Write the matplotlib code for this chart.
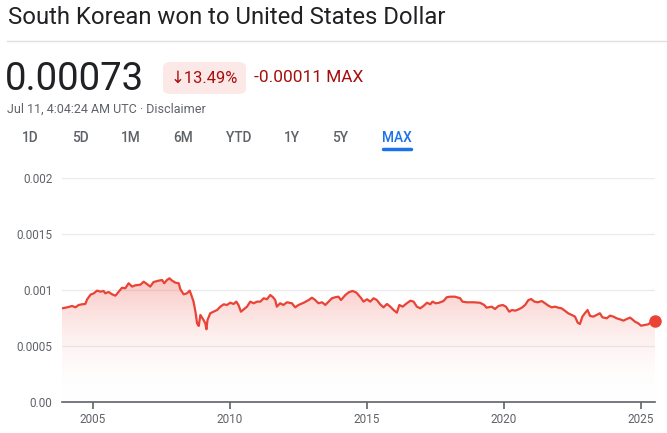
import numpy as np
import matplotlib
matplotlib.use("Agg")
from matplotlib import pyplot as plt
from matplotlib.patches import FancyBboxPatch, Polygon

plt.rcParams['font.family'] = ['Roboto', 'DejaVu Sans']

# KRW -> USD (decimal years)
years = [2003.88, 2004.07, 2004.25, 2004.37, 2004.49, 2004.61, 2004.73, 2004.80,
         2004.92, 2005.04, 2005.16, 2005.28, 2005.40, 2005.46, 2005.58, 2005.71,
         2005.83, 2005.95, 2006.07, 2006.19, 2006.31, 2006.44, 2006.56, 2006.74,
         2006.86, 2006.98, 2007.10, 2007.22, 2007.41, 2007.53, 2007.61, 2007.71,
         2007.80, 2007.90, 2008.02, 2008.14, 2008.20, 2008.32, 2008.44, 2008.54,
         2008.62, 2008.68, 2008.75, 2008.81, 2008.87, 2008.93, 2009.03, 2009.11,
         2009.15, 2009.19, 2009.29, 2009.41, 2009.54, 2009.66, 2009.78, 2009.90,
         2010.02, 2010.14, 2010.24, 2010.32, 2010.41, 2010.51, 2010.63, 2010.75,
         2010.87, 2011.00, 2011.12, 2011.24, 2011.36, 2011.48, 2011.58, 2011.66,
         2011.72, 2011.84, 2011.96, 2012.09, 2012.27, 2012.39, 2012.51, 2012.70,
         2012.88, 2013.00, 2013.12, 2013.24, 2013.37, 2013.49, 2013.61, 2013.73,
         2013.85, 2013.97, 2014.06, 2014.15, 2014.22, 2014.34, 2014.48, 2014.61,
         2014.70, 2014.80, 2014.88, 2015.01, 2015.13, 2015.25, 2015.37, 2015.49,
         2015.61, 2015.74, 2015.86, 2015.98, 2016.10, 2016.19, 2016.31, 2016.43,
         2016.59, 2016.71, 2016.83, 2016.95, 2017.07, 2017.20, 2017.32, 2017.40,
         2017.52, 2017.64, 2017.80, 2017.92, 2018.04, 2018.22, 2018.41, 2018.49,
         2018.65, 2018.89, 2019.13, 2019.29, 2019.37, 2019.56, 2019.68, 2019.81,
         2019.96, 2020.08, 2020.20, 2020.30, 2020.42, 2020.54, 2020.66, 2020.78,
         2020.90, 2021.00, 2021.12, 2021.24, 2021.39, 2021.51, 2021.63, 2021.75,
         2021.87, 2021.99, 2022.11, 2022.23, 2022.35, 2022.48, 2022.60, 2022.70,
         2022.78, 2022.87, 2022.96, 2023.06, 2023.15, 2023.27, 2023.39, 2023.51,
         2023.60, 2023.76, 2023.88, 2024.00, 2024.12, 2024.24, 2024.37, 2024.49,
         2024.61, 2024.69, 2024.79, 2024.91, 2025.01, 2025.15, 2025.27, 2025.40,
         2025.52]
rates = [0.000839, 0.000848, 0.000860, 0.000848, 0.000869, 0.000875, 0.000878, 0.000920,
         0.000961, 0.000973, 0.000997, 0.000988, 0.000994, 0.000973, 0.000985, 0.000964,
         0.000952, 0.000988, 0.001023, 0.001018, 0.001063, 0.001033, 0.001045, 0.001050,
         0.001077, 0.001056, 0.001033, 0.001074, 0.001086, 0.001092, 0.001063, 0.001092,
         0.001107, 0.001086, 0.001068, 0.001063, 0.001009, 0.000964, 0.000973, 0.000997,
         0.000943, 0.000899, 0.000809, 0.000705, 0.000682, 0.000780, 0.000741, 0.000705,
         0.000652, 0.000735, 0.000795, 0.000809, 0.000824, 0.000854, 0.000875, 0.000869,
         0.000889, 0.000878, 0.000899, 0.000869, 0.000809, 0.000830, 0.000854, 0.000899,
         0.000884, 0.000899, 0.000899, 0.000929, 0.000920, 0.000958, 0.000938, 0.000913,
         0.000854, 0.000884, 0.000869, 0.000893, 0.000884, 0.000848, 0.000869, 0.000889,
         0.000913, 0.000934, 0.000913, 0.000884, 0.000893, 0.000869, 0.000899, 0.000929,
         0.000938, 0.000943, 0.000913, 0.000938, 0.000958, 0.000982, 0.000994, 0.000982,
         0.000958, 0.000929, 0.000899, 0.000920, 0.000899, 0.000929, 0.000913, 0.000875,
         0.000848, 0.000878, 0.000854, 0.000824, 0.000800, 0.000869, 0.000854, 0.000878,
         0.000907, 0.000899, 0.000854, 0.000839, 0.000860, 0.000889, 0.000875, 0.000899,
         0.000884, 0.000889, 0.000904, 0.000938, 0.000943, 0.000943, 0.000929, 0.000899,
         0.000893, 0.000893, 0.000889, 0.000869, 0.000845, 0.000854, 0.000833, 0.000860,
         0.000869, 0.000854, 0.000809, 0.000824, 0.000818, 0.000830, 0.000845, 0.000869,
         0.000913, 0.000922, 0.000899, 0.000893, 0.000904, 0.000884, 0.000863, 0.000848,
         0.000854, 0.000845, 0.000839, 0.000818, 0.000795, 0.000780, 0.000765, 0.000711,
         0.000699, 0.000765, 0.000795, 0.000824, 0.000771, 0.000765, 0.000780, 0.000795,
         0.000759, 0.000750, 0.000774, 0.000765, 0.000750, 0.000741, 0.000729, 0.000744,
         0.000756, 0.000741, 0.000720, 0.000705, 0.000684, 0.000690, 0.000696, 0.000720,
         0.000730]

y_ticks = [0, 0.0005, 0.001, 0.0015, 0.002]
y_labels = ["0.00", "0.0005", "0.001", "0.0015", "0.002"]
x_ticks = [2005, 2010, 2015, 2020, 2025]
tabs = ["1D", "5D", "1M", "6M", "YTD", "1Y", "5Y", "MAX"]

RED = "#ea4335"
GRAY = "#5f6368"
DARK = "#202124"
BLUE = "#1a73e8"

fig = plt.figure(figsize=(6.67, 4.33), dpi=100)
W, H = 667, 433

def fx(px):
    return px / W

def fy(py):
    return 1 - py / H

# header
fig.text(fx(8), fy(18), "South Korean won to United States Dollar", fontsize=17.2,
         color=DARK, va="center", ha="left")
fig.add_artist(plt.Line2D([fx(7), 1], [fy(41), fy(41)], color="#e0e0e0", lw=1))
fig.text(fx(5), fy(80), "0.00073", fontsize=27.5, color=DARK, va="center", ha="left")
badge = FancyBboxPatch((fx(163), fy(94)), fx(83), (94 - 62) / H,
                       boxstyle="round,pad=0,rounding_size=0.012",
                       transform=fig.transFigure, fc="#fce8e6", ec="none")
fig.add_artist(badge)
fig.text(fx(204.5), fy(78), "↓13.49%", fontsize=11.9, color="#a50e0e",
         va="center", ha="center")
fig.text(fx(254), fy(78), "-0.00011 MAX", fontsize=12.4, color="#a50e0e",
         va="center", ha="left")
fig.text(fx(7), fy(109), "Jul 11, 4:04:24 AM UTC · Disclaimer", fontsize=9,
         color=GRAY, va="center", ha="left")

tab_x = [30.6, 80, 131, 183, 239, 292, 340, 397]
for t, x in zip(tabs, tab_x):
    c = BLUE if t == "MAX" else GRAY
    fig.text(fx(x), fy(138), t, fontsize=9.8, color=c, va="center", ha="center",
             fontweight="medium")
fig.add_artist(plt.Line2D([fx(383), fx(411)], [fy(149), fy(149)], color=BLUE, lw=2.5,
                          solid_capstyle="round"))

# chart
ax = fig.add_axes([fx(62), fy(402.3), fx(655 - 62), (402.3 - 178.3) / H])
ax.set_xlim(years[0], years[-1])
ax.set_ylim(0, 0.002)

# gradient fill under the line
grad = np.linspace(0, 1, 256).reshape(-1, 1)
cmap = matplotlib.colors.LinearSegmentedColormap.from_list(
    "fade", [(1, 1, 1, 0), (0.92, 0.26, 0.21, 0.30)])
img = ax.imshow(grad, cmap=cmap, aspect="auto", origin="lower",
                extent=[years[0], years[-1], 0, max(rates)], zorder=1)
poly = Polygon(list(zip(years, rates)) + [(years[-1], 0), (years[0], 0)],
               closed=True, transform=ax.transData, fc="none", ec="none")
ax.add_patch(poly)
img.set_clip_path(poly)

ax.plot(years, rates, color=RED, lw=1.6, zorder=3, solid_joinstyle="round")
ax.plot(years[-1], rates[-1], "o", color=RED, ms=8, zorder=4, clip_on=False)

ax.set_yticks(y_ticks)
ax.set_yticklabels(y_labels)
ax.set_xticks(x_ticks)
ax.set_xticklabels([str(x) for x in x_ticks])
ax.grid(axis="y", color="#ebebeb", lw=1)
ax.set_axisbelow(True)
for s in ["top", "right", "left"]:
    ax.spines[s].set_visible(False)
ax.spines["bottom"].set_color(GRAY)
ax.spines["bottom"].set_linewidth(1.2)
ax.spines["bottom"].set_zorder(5)
ax.tick_params(axis="y", length=0, pad=7, labelsize=8.5, labelcolor=GRAY)
ax.tick_params(axis="x", length=5, width=1.2, color=GRAY, pad=3, labelsize=8.5,
               labelcolor=GRAY)

fig.savefig("out.png", dpi=100)
